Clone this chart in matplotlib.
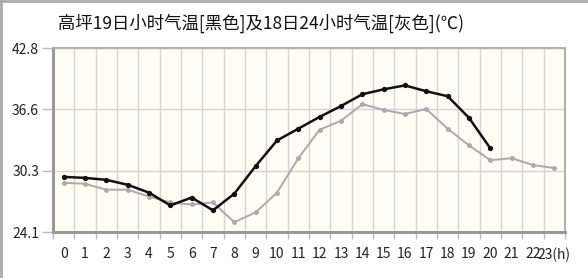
import matplotlib
matplotlib.use("Agg")
import matplotlib.pyplot as plt
from matplotlib.lines import Line2D
from matplotlib.ticker import FixedLocator

plt.rcParams["font.family"] = ["Noto Sans CJK SC", "DejaVu Sans"]

# ----------------------------- data -----------------------------
hours = list(range(24))
hour_labels = [str(h) for h in hours[:-1]] + ["23(h)"]
temp_19 = [29.7, 29.6, 29.4, 28.9, 28.1, 26.8, 27.6, 26.3, 28.0, 30.8, 33.4,
           34.6, 35.8, 36.9, 38.1, 38.6, 39.0, 38.4, 37.9, 35.7, 32.6]
temp_18 = [29.1, 29.0, 28.4, 28.4, 27.7, 27.1, 26.9, 27.1, 25.1, 26.1, 28.1,
           31.6, 34.5, 35.4, 37.1, 36.5, 36.1, 36.6, 34.6, 32.9, 31.4, 31.6,
           30.9, 30.6]
y_ticks = [24.1, 30.3, 36.6, 42.8]
title = "高坪19日小时气温[黑色]及18日24小时气温[灰色](℃)"

# ----------------------------- plot -----------------------------
fig = plt.figure(figsize=(5.88, 2.78), dpi=100)
ax = fig.add_axes([53 / 588, 1 - 232 / 278, 512 / 588, 184 / 278])
ax.set_facecolor("#fffdf4")

ax.plot(hours[:len(temp_18)], temp_18, color="#aaaaaa", lw=1.4,
        marker="o", ms=2.5, zorder=3)
ax.plot(hours[:len(temp_19)], temp_19, color="#111111", lw=1.8,
        marker="o", ms=2.8, zorder=4)

ax.set_xlim(-0.5, 23.5)
ax.set_ylim(y_ticks[0], y_ticks[-1])

ax.set_xticks(hours)
ax.set_xticklabels(hour_labels, fontsize=10)
ax.xaxis.set_minor_locator(FixedLocator([h - 0.5 for h in hours] + [23.5]))
ax.tick_params(axis="x", which="major", length=0, pad=11, colors="#222222")
ax.tick_params(axis="x", which="minor", length=5, color="#bbbbbb", width=1)

ax.set_yticks(y_ticks)
ax.set_yticklabels([f"{v:.1f}" for v in y_ticks], fontsize=10)
ax.tick_params(axis="y", length=8, color="#bbbbbb", width=1, pad=2,
               colors="#222222")
ax.tick_params(axis="y", color="#bbbbbb")

ax.grid(True, axis="y", color="#d4d4d4", lw=1)
ax.grid(True, axis="x", which="minor", color="#d4d4d4", lw=1)
ax.set_axisbelow(True)

for side in ("left", "bottom"):
    ax.spines[side].set_color("#999999")
    ax.spines[side].set_linewidth(2.2)
for side in ("top", "right"):
    ax.spines[side].set_color("#b0b0b0")
    ax.spines[side].set_linewidth(1.5)

fig.text(261 / 588, 1 - 23 / 278, title, ha="center", va="center",
         fontsize=12.5, color="#111111")

# screenshot border, left and top
fig.add_artist(Line2D([0.002, 0.002], [0, 1], color="#aaaaaa", lw=2,
                      transform=fig.transFigure))
fig.add_artist(Line2D([0, 1], [0.996, 0.996], color="#aaaaaa", lw=2,
                      transform=fig.transFigure))

fig.savefig("out.png", dpi=100)
